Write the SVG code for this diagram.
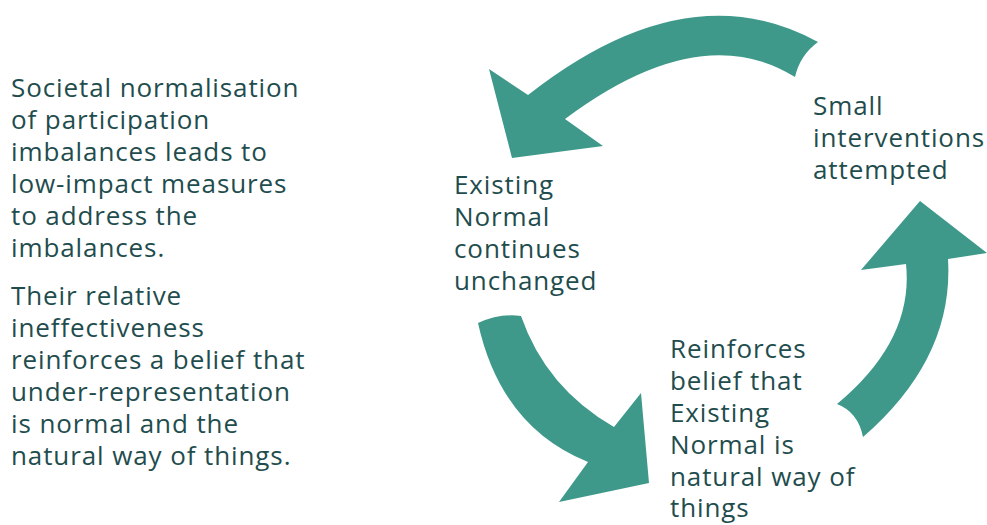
<svg xmlns="http://www.w3.org/2000/svg" width="987" height="525" viewBox="0 0 987 525">
<style>
.t{font-family:"Open Sans","Liberation Sans",sans-serif;font-size:26px;letter-spacing:0.9px;fill:#1f4d4e}
.a{fill:#3e998b}
</style>
<rect width="987" height="525" fill="#fff"/>
<g id="description">
<text class="t" x="11" y="97">Societal normalisation</text>
<text class="t" x="11" y="129">of participation</text>
<text class="t" x="11" y="161">imbalances leads to</text>
<text class="t" x="11" y="193">low-impact measures</text>
<text class="t" x="11" y="225">to address the</text>
<text class="t" x="11" y="257">imbalances.</text>
<text class="t" x="11" y="305">Their relative</text>
<text class="t" x="11" y="337">ineffectiveness</text>
<text class="t" x="11" y="369">reinforces a belief that</text>
<text class="t" x="11" y="401">under-representation</text>
<text class="t" x="11" y="433">is normal and the</text>
<text class="t" x="11" y="465">natural way of things.</text>
</g>
<g id="connectors">
<path class="a" d="M818,42 Q687,-30 528,95 L489,69 L512,158 L603,146 L565,119 Q700,18 795,77 Q800,55 818,42 Z"/>
<path class="a" d="M478,323 Q500,313 521,316 Q546,388 614,427 L641,393 L649,483 L559,502 L588,462 Q501,427 478,323 Z"/>
<path class="a" d="M837,404 Q858,412 863,437 Q954,358 948,259 L987,253 L920,201 L861,270 L906,264 Q914,340 837,404 Z"/>
</g>
<g id="node-existing">
<text class="t" x="454" y="194">Existing</text>
<text class="t" x="454" y="226">Normal</text>
<text class="t" x="454" y="258">continues</text>
<text class="t" x="454" y="290">unchanged</text>
</g>
<g id="node-small">
<text class="t" x="813" y="115">Small</text>
<text class="t" x="813" y="147">interventions</text>
<text class="t" x="813" y="179">attempted</text>
</g>
<g id="node-reinforces">
<text class="t" x="670" y="358">Reinforces</text>
<text class="t" x="670" y="390">belief that</text>
<text class="t" x="670" y="422">Existing</text>
<text class="t" x="670" y="454">Normal is</text>
<text class="t" x="670" y="486">natural way of</text>
<text class="t" x="670" y="517">things</text>
</g>
</svg>
